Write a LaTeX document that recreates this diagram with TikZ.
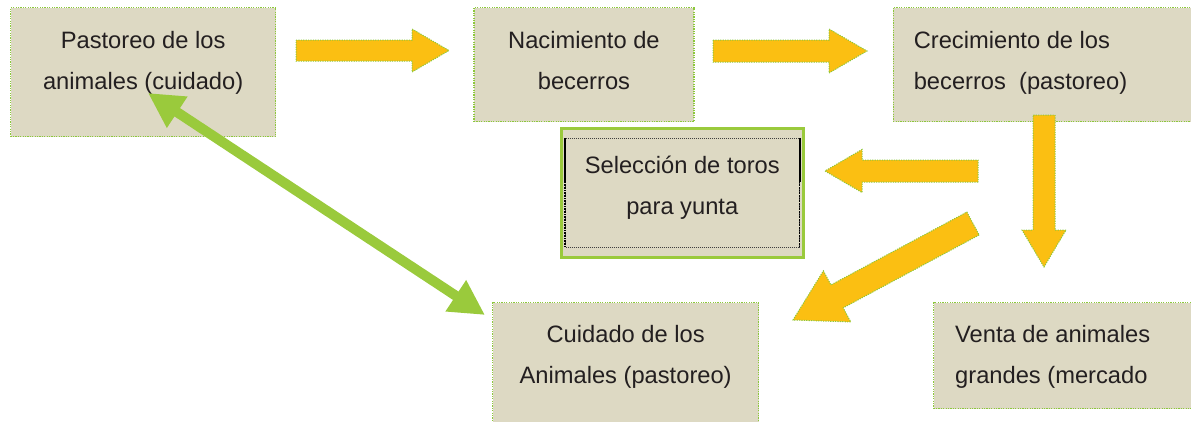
\documentclass[tikz,border=0pt]{standalone}
\usepackage{fontspec}
\setmainfont{Liberation Sans}
\usepackage{tikz}
\usetikzlibrary{arrows.meta,positioning,calc}

\definecolor{boxtan}{RGB}{221,217,195}
\definecolor{dotgreen}{RGB}{140,200,60}
\definecolor{leafgreen}{RGB}{154,202,60}
\definecolor{gold}{RGB}{251,191,18}
\definecolor{inkgray}{RGB}{35,31,32}

\newcommand{\tstrut}{\rule{0pt}{19pt}}
% tail, tip, half shaft, half head, head length
\newcommand{\blockarrow}[5]{%
  \coordinate (#1b) at ($(#2)!#5!(#1)$);
  \filldraw[goldarrow] ($(#1)!#3!90:(#2)$) -- ($(#1b)!#3!90:(#2)$) -- ($(#1b)!#4!90:(#2)$) -- (#2)
    -- ($(#1b)!#4!-90:(#2)$) -- ($(#1b)!#3!-90:(#2)$) -- ($(#1)!#3!-90:(#2)$) -- cycle;}

\begin{document}
\begin{tikzpicture}[x=1pt, y=-1pt,
    box/.style={draw=dotgreen, dash pattern=on 1.2pt off 1.2pt, line width=1.3pt, fill=boxtan, anchor=north west, inner sep=0pt},
    txt/.style={inner sep=0pt, font=\fontsize{23.7}{41.5}\selectfont, text=inkgray},
    goldarrow/.style={fill=gold, draw=dotgreen, line width=1pt, dash pattern=on 1.2pt off 1.2pt},
    linkarrow/.style={draw=leafgreen, line width=10pt, {Triangle[length=35pt,width=35pt]}-{Triangle[length=35pt,width=35pt]}}]
  \useasboundingbox (0,0) rectangle (1191,421);
  \clip (0,0) rectangle (1191,421);

  \node[box, minimum width=265pt, minimum height=129pt] (pasto) at (10,7) {};
  \node[box, minimum width=220pt, minimum height=114pt, right=197pt of pasto.north east, anchor=north west] (nac) {};
  \node[box, minimum width=310pt, minimum height=114pt, right=198pt of nac.north east, anchor=north west] (crec) {};
  \node[box, draw=leafgreen, solid, line width=2.5pt, minimum width=242pt, minimum height=129pt] (sel) at (560,127) {};
  \node[box, minimum width=266pt, minimum height=150pt] (cuid) at (492,302) {};
  \node[box, minimum width=270pt, minimum height=106pt] (venta) at (933,302) {};

  % inner frame of the selection box
  \draw[black!75, line width=0.8pt, dash pattern=on 1pt off 1pt] ($(sel.north west)+(5,11)$) rectangle ($(sel.south east)+(-5,-11)$);
  \draw[black, line width=2pt] ($(sel.north west)+(5,11)$) -- ++(0,44);
  \draw[black, line width=2pt] ($(sel.north east)+(-5,11)$) -- ++(0,44);
  \draw[black, line width=1.5pt, dash pattern=on 1pt off 0.6pt] ($(sel.north west)+(5,55)$) -- ($(sel.south west)+(5,-11)$);
  \draw[black, line width=1.5pt, dash pattern=on 1pt off 0.6pt] ($(sel.north east)+(-5,55)$) -- ($(sel.south east)+(-5,-11)$);

  \node[txt, align=center, below=22pt of pasto.north] (pastoT) {\tstrut Pastoreo de los\\animales (cuidado)};
  \node[txt, align=center, below=22pt of nac.north] (nacT) {\tstrut Nacimiento de\\becerros};
  \node[txt, align=left, below right=22pt and 21pt of crec.north west] (crecT) {\tstrut Crecimiento de los\\becerros\ \ (pastoreo)};
  \node[txt, align=center, below=27pt of sel.north] (selT) {\tstrut Selección de toros\\para yunta};
  \node[txt, align=center, below=21pt of cuid.north] (cuidT) {\tstrut Cuidado de los\\Animales (pastoreo)};
  \node[txt, align=left, below right=21pt and 22pt of venta.north west] (ventaT) {\tstrut Venta de animales\\grandes (mercado};

  % gold block arrows
  \coordinate (arr1) at (296,50.5);   \coordinate (arr1tip) at (449,50.5);
  \coordinate (arr2) at (713,51);     \coordinate (arr2tip) at (867,51);
  \coordinate (arr3) at (978,171);    \coordinate (arr3tip) at (825,171);
  \coordinate (arr4) at (1044,115);   \coordinate (arr4tip) at (1044,267);
  \coordinate (arr5) at (973,223.5);  \coordinate (arr5tip) at (793,320);
  \blockarrow{arr1}{arr1tip}{10.5pt}{21.5pt}{37pt}
  \blockarrow{arr2}{arr2tip}{11pt}{22pt}{38pt}
  \blockarrow{arr3}{arr3tip}{11pt}{21.5pt}{37pt}
  \blockarrow{arr4}{arr4tip}{11pt}{22pt}{37pt}
  \blockarrow{arr5}{arr5tip}{13pt}{29pt}{50pt}

  % green link
  \coordinate (lnk1) at (148,93);
  \coordinate (lnk2) at (485,315);
  \draw[linkarrow] (lnk1) -- (lnk2);
\end{tikzpicture}
\end{document}
